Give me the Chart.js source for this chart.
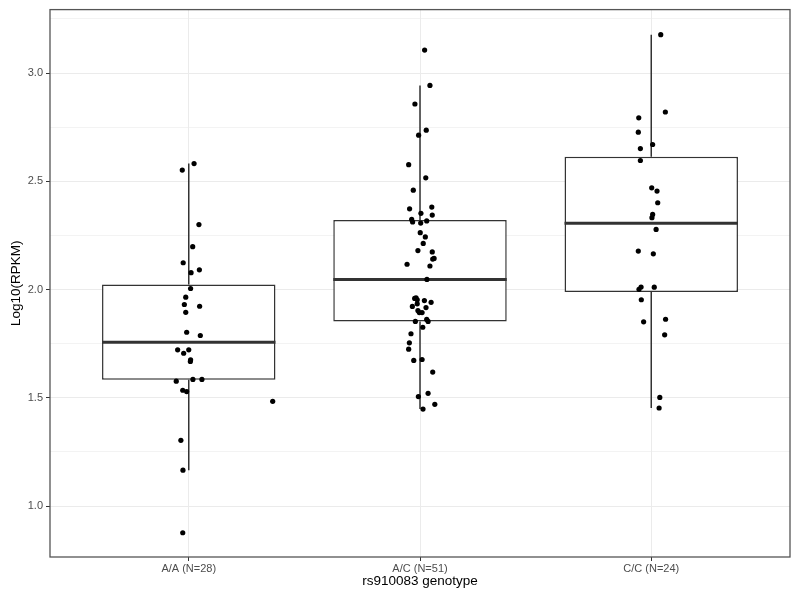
<!DOCTYPE html>
<html>
<head>
<meta charset="utf-8">
<script src="https://cdn.jsdelivr.net/npm/chart.js@4.4.1/dist/chart.umd.min.js"></script>
<style>
    html, body { margin: 0; padding: 0; background: #fff; }
    #app-wrap { width: 800px; height: 599px; }
</style>
</head>
<body>
<div id="app-wrap"><canvas id="app-chart"></canvas></div>
<script>
//======================================================================================================================
// Data
//======================================================================================================================

var categories = ['A/A (N=28)', 'A/C (N=51)', 'C/C (N=24)'];

var aaValues = [2.582, 2.552, 2.300, 2.198, 2.124, 2.091, 2.078, 2.005, 1.965, 1.931, 1.923, 1.895, 1.803, 1.788,
    1.722, 1.706, 1.722, 1.676, 1.668, 1.577, 1.585, 1.585, 1.535, 1.529, 1.484, 1.304, 1.166, 0.877];
var aaJitter = [0.023, -0.028, 0.044, 0.017, -0.024, 0.046, 0.010, 0.008, -0.013, -0.019, 0.047, -0.013, -0.009, 0.050,
    -0.048, -0.022, 0.000, 0.008, 0.007, -0.054, 0.018, 0.057, -0.026, -0.009, 0.363, -0.034, -0.025, -0.026];

var acValues = [3.106, 2.943, 2.857, 2.736, 2.713, 2.577, 2.516, 2.459, 2.373, 2.381, 2.352, 2.344, 2.324, 2.312,
    2.307, 2.317, 2.263, 2.243, 2.213, 2.180, 2.174, 2.144, 2.141, 2.117, 2.109, 2.047, 1.959, 1.953, 1.949, 1.941,
    1.934, 1.922, 1.917, 1.894, 1.894, 1.853, 1.862, 1.853, 1.826, 1.796, 1.754, 1.725, 1.673, 1.677, 1.619, 1.506,
    1.521, 1.470, 1.448, 1.962, 1.903];
var acJitter = [0.020, 0.043, -0.022, 0.027, -0.006, -0.049, 0.025, -0.029, -0.045, 0.051, 0.004, 0.053, -0.036,
    -0.032, 0.003, 0.029, 0.001, 0.023, 0.014, -0.009, 0.053, 0.061, 0.055, -0.056, 0.043, 0.030, -0.023, -0.012,
    0.019, 0.048, -0.012, -0.033, 0.026, -0.003, 0.009, -0.020, 0.029, 0.035, 0.012, -0.039, -0.046, -0.049, -0.027,
    0.009, 0.055, -0.007, 0.035, 0.064, 0.013, -0.017, -0.009];

var ccValues = [3.177, 2.820, 2.793, 2.727, 2.651, 2.670, 2.596, 2.470, 2.455, 2.401, 2.347, 2.332, 2.278, 2.178,
    2.165, 2.012, 2.001, 2.011, 1.953, 1.863, 1.851, 1.791, 1.502, 1.453];
var ccJitter = [0.041, 0.061, -0.054, -0.056, -0.047, 0.006, -0.047, 0.002, 0.025, 0.028, 0.006, 0.003, 0.021,
    -0.056, 0.009, -0.044, -0.053, 0.013, -0.043, 0.062, -0.033, 0.058, 0.037, 0.034];

var boxLow = [1.584, 1.853, 1.989];
var boxMedian = [1.757, 2.046, 2.306];
var boxHigh = [2.023, 2.321, 2.613];
var whiskerLow = [1.166, 1.448, 1.453];
var whiskerHigh = [2.582, 2.943, 3.177];

var yTicks = [1.0, 1.5, 2.0, 2.5, 3.0];
var yMinorTicks = [1.25, 1.75, 2.25, 2.75, 3.25];

//======================================================================================================================
// Chart
//======================================================================================================================

var groups = [[aaValues, aaJitter], [acValues, acJitter], [ccValues, ccJitter]];

var pointSets = groups.map(function(g, i) {
    return {
        type: 'scatter',
        order: 0,
        data: g[0].map(function(v, k) { return {x: i + g[1][k], y: v}; }),
        pointRadius: 2.6,
        pointBackgroundColor: '#000',
        pointBorderWidth: 0,
        pointHoverRadius: 2.6
    };
});

var boxSet = {
    type: 'bar',
    order: 1,
    data: categories.map(function(c, i) { return {x: i, y: [boxLow[i], boxHigh[i]]}; }),
    backgroundColor: '#fff',
    borderColor: '#333',
    borderWidth: 1.5,
    borderSkipped: false,
    categoryPercentage: 1,
    barPercentage: 0.75
};

var boxParts = {
    id: 'boxParts',
    beforeDatasetsDraw: function(chart) {
        var ctx = chart.ctx, xs = chart.scales.x, ys = chart.scales.y;
        ctx.save();
        ctx.strokeStyle = '#333';
        ctx.lineWidth = 1.5;
        categories.forEach(function(c, i) {
            var px = xs.getPixelForValue(i);
            ctx.beginPath();
            ctx.moveTo(px, ys.getPixelForValue(whiskerHigh[i]));
            ctx.lineTo(px, ys.getPixelForValue(boxHigh[i]));
            ctx.moveTo(px, ys.getPixelForValue(boxLow[i]));
            ctx.lineTo(px, ys.getPixelForValue(whiskerLow[i]));
            ctx.stroke();
        });
        ctx.restore();
    },
    afterDatasetDraw: function(chart, args) {
        if (chart.data.datasets[args.index].type !== 'bar') return;
        var ctx = chart.ctx, xs = chart.scales.x, ys = chart.scales.y;
        ctx.save();
        ctx.strokeStyle = '#333';
        ctx.lineWidth = 3;
        categories.forEach(function(c, i) {
            var py = ys.getPixelForValue(boxMedian[i]);
            ctx.beginPath();
            ctx.moveTo(xs.getPixelForValue(i - 0.375), py);
            ctx.lineTo(xs.getPixelForValue(i + 0.375), py);
            ctx.stroke();
        });
        ctx.restore();
    },
    afterDraw: function(chart) {
        var a = chart.chartArea, ctx = chart.ctx;
        ctx.save();
        ctx.strokeStyle = '#555';
        ctx.lineWidth = 1.3;
        ctx.strokeRect(a.left, a.top, a.right - a.left, a.bottom - a.top);
        ctx.restore();
    }
};

function isMajor(ctx) {
    return ctx.tick && yTicks.indexOf(ctx.tick.value) !== -1;
}

new Chart(document.getElementById('app-chart'), {
    data: {
        datasets: pointSets.concat([boxSet])
    },
    plugins: [boxParts],
    options: {
        responsive: true,
        maintainAspectRatio: false,
        animation: false,
        layout: {
            padding: {top: 9, right: 10, left: 0, bottom: 0}
        },
        plugins: {
            legend: {display: false},
            tooltip: {enabled: false}
        },
        scales: {
            x: {
                type: 'linear',
                min: -0.6,
                max: 2.6,
                offset: false,
                afterBuildTicks: function(scale) {
                    scale.ticks = categories.map(function(c, i) { return {value: i}; });
                },
                afterFit: function(scale) { scale.height = 42; },
                grid: {
                    offset: false,
                    color: '#EBEBEB',
                    lineWidth: 1,
                    tickColor: '#333',
                    tickLength: 4
                },
                border: {display: false},
                ticks: {
                    padding: 1,
                    color: '#4D4D4D',
                    font: {family: 'Liberation Sans', size: 11},
                    callback: function(v) { return categories[v]; }
                },
                title: {
                    display: true,
                    text: 'rs910083 genotype',
                    color: '#000',
                    font: {family: 'Liberation Sans', size: 13.5},
                    padding: {top: 0, bottom: 10}
                }
            },
            y: {
                min: 0.765,
                max: 3.293,
                afterBuildTicks: function(scale) {
                    scale.ticks = yTicks.concat(yMinorTicks).sort().map(function(v) { return {value: v}; });
                },
                afterFit: function(scale) { scale.width = 50; },
                grid: {
                    color: '#EBEBEB',
                    lineWidth: function(ctx) { return isMajor(ctx) ? 1 : 0.6; },
                    tickColor: function(ctx) { return isMajor(ctx) ? '#333' : 'rgba(0,0,0,0)'; },
                    tickLength: 4
                },
                border: {display: false},
                ticks: {
                    padding: 3,
                    color: '#4D4D4D',
                    font: {family: 'Liberation Sans', size: 11},
                    callback: function(v) { return yTicks.indexOf(v) !== -1 ? v.toFixed(1) : ''; }
                },
                title: {
                    display: true,
                    text: 'Log10(RPKM)',
                    color: '#000',
                    font: {family: 'Liberation Sans', size: 13.5},
                    padding: {top: 8, bottom: 0}
                }
            }
        }
    }
});
</script>
</body>
</html>
